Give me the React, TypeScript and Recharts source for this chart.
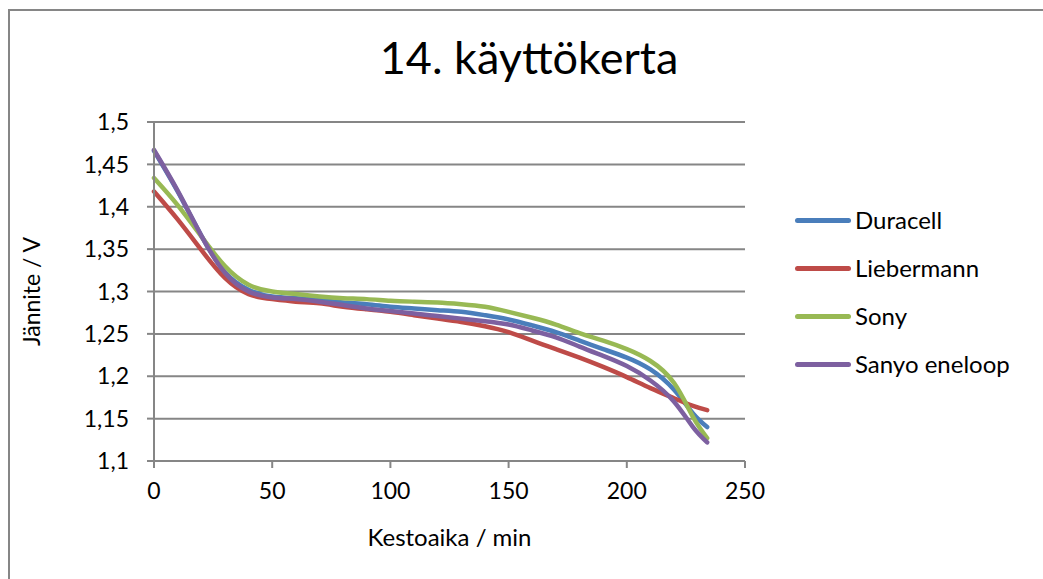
import { LineChart, Line, XAxis, YAxis, CartesianGrid, Label } from 'recharts'

const minutes = [0, 10, 20, 30, 40, 50, 60, 70, 80, 90, 100, 110, 120, 130, 140, 150, 160, 170, 180, 190, 200, 210, 220, 228, 234]

const duracell = [1.466, 1.418, 1.366, 1.323, 1.302, 1.294, 1.292, 1.29, 1.287, 1.285, 1.282, 1.28, 1.278, 1.276, 1.272, 1.267, 1.26, 1.252, 1.242, 1.232, 1.222, 1.208, 1.184, 1.156, 1.14]
const liebermann = [1.418, 1.385, 1.349, 1.316, 1.297, 1.291, 1.288, 1.286, 1.282, 1.279, 1.276, 1.272, 1.268, 1.264, 1.259, 1.252, 1.242, 1.232, 1.222, 1.211, 1.199, 1.186, 1.174, 1.165, 1.16]
const sony = [1.434, 1.402, 1.365, 1.33, 1.308, 1.3, 1.297, 1.294, 1.292, 1.291, 1.289, 1.288, 1.287, 1.285, 1.282, 1.276, 1.269, 1.261, 1.251, 1.242, 1.232, 1.218, 1.192, 1.152, 1.127]
const sanyo = [1.467, 1.419, 1.366, 1.322, 1.3, 1.293, 1.291, 1.288, 1.284, 1.28, 1.277, 1.274, 1.271, 1.268, 1.265, 1.261, 1.254, 1.246, 1.235, 1.224, 1.212, 1.195, 1.17, 1.14, 1.122]

const xTicks = [0, 50, 100, 150, 200, 250]
const yTicks = [1.1, 1.15, 1.2, 1.25, 1.3, 1.35, 1.4, 1.45, 1.5]

const series = [
  { key: 'duracell', name: 'Duracell', color: '#4a7ebb' },
  { key: 'liebermann', name: 'Liebermann', color: '#be4b48' },
  { key: 'sony', name: 'Sony', color: '#98b954' },
  { key: 'sanyo', name: 'Sanyo eneloop', color: '#7d60a0' },
]

const data = minutes.map((t, i) => ({
  t,
  duracell: duracell[i],
  liebermann: liebermann[i],
  sony: sony[i],
  sanyo: sanyo[i],
}))

const FONT = 'Lato, "Open Sans", sans-serif'
const AXIS = '#868686'

const fmt = (v: number) => String(Number(v.toFixed(2))).replace('.', ',')

export default function App() {
  return (
    <div style={{ position: 'relative', width: 1043, height: 579, background: '#fff', fontFamily: FONT }}>
      <style>{'body{margin:0}'}</style>
      <div
        style={{
          position: 'absolute',
          left: 8,
          top: 9,
          right: 0,
          bottom: 0,
          borderTop: `2px solid ${AXIS}`,
          borderLeft: `2px solid ${AXIS}`,
        }}
      />
      <div
        style={{
          position: 'absolute',
          top: 30,
          left: 0,
          width: 1058,
          textAlign: 'center',
          fontSize: 45,
          color: '#000',
        }}
      >
        14. käyttökerta
      </div>
      <LineChart
        width={1043}
        height={579}
        data={data}
        margin={{ top: 122, right: 298, bottom: 28, left: 0 }}
        style={{ position: 'absolute', left: 0, top: 0 }}
      >
        <CartesianGrid vertical={false} stroke={AXIS} strokeWidth={2} />
        <XAxis
          dataKey="t"
          type="number"
          domain={[0, 250]}
          ticks={xTicks}
          height={90}
          stroke={AXIS}
          strokeWidth={2}
          tickSize={7}
          tickMargin={15}
          tick={{ fill: '#000', fontSize: 23, fontFamily: FONT }}
        >
          <Label value="Kestoaika / min" position="insideBottom" offset={5} fill="#000" fontSize={24} fontFamily={FONT} />
        </XAxis>
        <YAxis
          type="number"
          domain={[1.1, 1.5]}
          ticks={yTicks}
          width={154}
          stroke={AXIS}
          strokeWidth={2}
          tickSize={7}
          tickMargin={18}
          tickFormatter={fmt}
          tick={{ fill: '#000', fontSize: 23, fontFamily: FONT }}
        >
          <Label value="Jännite / V" angle={-90} position="insideLeft" offset={32} fill="#000" fontSize={23} fontFamily={FONT} style={{ textAnchor: 'middle' }} />
        </YAxis>
        {series.map((s) => (
          <Line
            key={s.key}
            dataKey={s.key}
            name={s.name}
            type="natural"
            stroke={s.color}
            strokeWidth={4.5}
            strokeLinecap="round"
            dot={false}
            isAnimationActive={false}
          />
        ))}
      </LineChart>
      <div style={{ position: 'absolute', left: 795, top: 196 }}>
        {series.map((s) => (
          <div key={s.key} style={{ display: 'flex', alignItems: 'center', height: 48 }}>
            <div style={{ width: 56, height: 5, borderRadius: 3, background: s.color, marginRight: 4 }} />
            <span style={{ fontSize: 24, color: '#000', lineHeight: '30px' }}>{s.name}</span>
          </div>
        ))}
      </div>
    </div>
  )
}
